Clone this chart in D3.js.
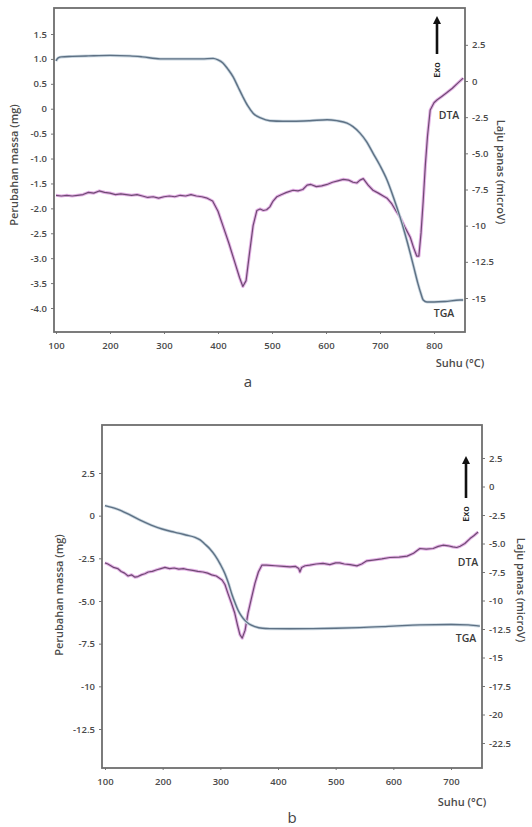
<!DOCTYPE html>
<html>
<head>
<meta charset="utf-8">
<script src="https://cdn.jsdelivr.net/npm/d3@7"></script>
<style>
  body { margin: 0; background: #fff; }
  text { font-family: "Open Sans", sans-serif; }
</style>
</head>
<body>
<div id="chart"></div>
<script>
// ---- panel a data (temperature in °C) ----
const aTgaT = [100, 104, 110, 130, 160, 200, 237, 260, 293, 335, 370, 391, 400, 409, 418, 428, 437, 446, 455, 465, 480, 496, 520, 539, 570, 602, 620, 639, 650, 663, 675, 687, 700, 713, 725, 737, 746, 756, 763, 770, 776, 780, 787, 800, 820, 848, 854];
const aTgaV = [0.96, 1.02, 1.04, 1.05, 1.06, 1.07, 1.06, 1.04, 1.0, 1.0, 1.0, 1.01, 0.98, 0.92, 0.8, 0.64, 0.44, 0.24, 0.06, -0.09, -0.19, -0.24, -0.25, -0.25, -0.24, -0.22, -0.24, -0.29, -0.36, -0.49, -0.66, -0.89, -1.14, -1.43, -1.78, -2.17, -2.5, -2.9, -3.2, -3.5, -3.72, -3.84, -3.88, -3.88, -3.87, -3.84, -3.84];
const aDtaT = [100, 110, 120, 130, 140, 150, 160, 170, 180, 190, 200, 210, 220, 230, 240, 250, 260, 270, 280, 290, 300, 310, 320, 330, 340, 350, 360, 370, 380, 390, 400, 410, 420, 430, 440, 446, 452, 458, 465, 472, 478, 484, 490, 496, 502, 509, 518, 527, 539, 548, 557, 565, 572, 582, 592, 602, 612, 622, 632, 642, 650, 657, 663, 669, 678, 687, 697, 706, 713, 722, 730, 737, 746, 756, 762, 768, 772, 776, 780, 784, 788, 793, 800, 806, 815, 824, 834, 844, 854];
const aDtaV = [-7.9, -7.95, -7.9, -7.95, -7.9, -7.85, -7.7, -7.75, -7.6, -7.7, -7.75, -7.85, -7.8, -7.85, -7.9, -7.85, -7.95, -8.05, -8.0, -8.1, -8.0, -7.95, -8.0, -7.9, -7.95, -7.85, -7.95, -8.0, -8.1, -8.3, -9.0, -10.1, -11.2, -12.4, -13.6, -14.2, -13.8, -12.0, -10.0, -8.95, -8.85, -8.95, -8.9, -8.7, -8.3, -8.0, -7.85, -7.7, -7.55, -7.6, -7.5, -7.2, -7.15, -7.3, -7.25, -7.15, -7.0, -6.9, -6.8, -6.85, -7.0, -7.05, -6.85, -6.75, -7.2, -7.55, -7.75, -7.95, -8.1, -8.5, -9.0, -9.4, -10.1, -10.8, -11.5, -12.1, -12.1, -10.5, -8.3, -5.8, -3.8, -2.0, -1.5, -1.3, -1.05, -0.8, -0.5, -0.15, 0.2];

// ---- panel b data ----
const bTgaT = [100, 120, 140, 160, 180, 199, 215, 227, 240, 256, 265, 273, 282, 291, 300, 308, 314, 320, 326, 331, 337, 343, 350, 360, 373, 386, 420, 460, 500, 542, 600, 646, 700, 730, 750];
const bTgaV = [0.59, 0.4, 0.1, -0.25, -0.55, -0.78, -0.93, -1.02, -1.13, -1.27, -1.42, -1.66, -1.95, -2.34, -2.85, -3.4, -3.95, -4.6, -5.15, -5.56, -5.9, -6.15, -6.35, -6.5, -6.6, -6.62, -6.63, -6.62, -6.6, -6.56, -6.47, -6.4, -6.38, -6.4, -6.47];
const bDtaT = [100, 105, 110, 115, 122, 128, 134, 140, 146, 152, 157, 163, 169, 175, 182, 190, 197, 204, 212, 220, 228, 236, 244, 252, 261, 270, 278, 285, 293, 303, 308, 313, 319, 325, 330, 334, 338, 343, 348, 354, 360, 366, 372, 380, 395, 410, 421, 430, 436, 438, 441, 447, 455, 466, 478, 490, 500, 507, 515, 525, 537, 545, 554, 565, 580, 594, 610, 624, 635, 646, 657, 669, 678, 686, 695, 703, 710, 716, 724, 733, 740, 747];
const bDtaV = [-6.7, -6.8, -6.95, -7.1, -7.2, -7.45, -7.6, -7.85, -7.75, -7.95, -7.9, -7.75, -7.65, -7.5, -7.45, -7.3, -7.2, -7.1, -7.2, -7.15, -7.25, -7.2, -7.3, -7.35, -7.45, -7.5, -7.6, -7.75, -7.85, -8.2, -8.6, -9.35, -10.2, -11.1, -12.2, -13.0, -13.3, -12.6, -11.1, -9.8, -8.5, -7.5, -6.9, -6.9, -6.95, -7.0, -7.05, -7.0, -7.2, -7.5, -7.1, -6.95, -6.9, -6.8, -6.75, -6.85, -6.7, -6.7, -6.8, -6.85, -6.96, -6.8, -6.52, -6.45, -6.35, -6.23, -6.2, -6.11, -5.85, -5.44, -5.5, -5.44, -5.25, -5.15, -5.2, -5.3, -5.35, -5.24, -5.0, -4.57, -4.3, -3.99];

// ---- tick labels ----
const xTicksA = [100, 200, 300, 400, 500, 600, 700, 800];
const xTicksB = [100, 200, 300, 400, 500, 600, 700];
const leftTicksA = [1.5, 1.0, 0.5, 0, -0.5, -1.0, -1.5, -2.0, -2.5, -3.0, -3.5, -4.0];
const leftLabelsA = ["1.5", "1.0", "0.5", "0", "-0.5", "-1.0", "-1.5", "-2.0", "-2.5", "-3.0", "-3.5", "-4.0"];
const rightTicksA = [2.5, 0, -2.5, -5, -7.5, -10, -12.5, -15];
const rightLabelsA = ["2.5", "0", "-2.5", "-5.0", "-7.5", "-10", "-12.5", "-15"];
const leftTicksB = [2.5, 0, -2.5, -5, -7.5, -10, -12.5];
const leftLabelsB = ["2.5", "0", "-2.5", "-5.0", "-7.5", "-10", "-12.5"];
const rightTicksB = [2.5, 0, -2.5, -5, -7.5, -10, -12.5, -15, -17.5, -20, -22.5];
const rightLabelsB = ["2.5", "0", "-2.5", "-5.0", "-7.5", "-10", "-12.5", "-15", "-17.5", "-20", "-22.5"];

const svg = d3.select("#chart").append("svg")
  .attr("width", 532).attr("height", 827);

const textCol = "#4a4a4a";

function zip(a, b) { return a.map((t, i) => [t, b[i]]); }

function drawPanel(p) {
  const g = svg.append("g");
  const x = d3.scaleLinear().domain(p.xDom).range(p.xRng);
  const yL = d3.scaleLinear().domain(p.yLDom).range(p.yLRng);
  const yR = d3.scaleLinear().domain(p.yRDom).range(p.yRRng);
  const [fl, ft, fr, fb] = p.frame;

  // axes
  const ax = g.append("g").attr("transform", `translate(0,${fb})`)
    .call(d3.axisBottom(x).tickValues(p.xTicks).tickFormat(d3.format("d")).tickSize(2).tickPadding(8));
  const al = g.append("g").attr("transform", `translate(${fl},0)`)
    .call(d3.axisLeft(yL).tickValues(p.lTicks).tickFormat((d, i) => p.lLabels[i]).tickSize(3).tickPadding(4));
  const ar = g.append("g").attr("transform", `translate(${fr},0)`)
    .call(d3.axisRight(yR).tickValues(p.rTicks).tickFormat((d, i) => p.rLabels[i]).tickSize(3).tickPadding(4));
  [ax, al, ar].forEach(a => {
    a.select(".domain").remove();
    a.selectAll(".tick line").attr("stroke", "#777");
    a.selectAll("text").attr("fill", textCol).style("font-size", "9.5px").style("font-weight", 600);
  });

  // curves
  const tga = d3.line().x(d => x(d[0])).y(d => yL(d[1])).curve(d3.curveMonotoneX);
  const dta = d3.line().x(d => x(d[0])).y(d => yR(d[1])).curve(d3.curveLinear);
  g.append("path").attr("d", dta(zip(p.dtaT, p.dtaV)))
    .attr("fill", "none").attr("stroke", "#e4b2e6").attr("stroke-width", 3.2).attr("stroke-linejoin", "round");
  g.append("path").attr("d", dta(zip(p.dtaT, p.dtaV)))
    .attr("fill", "none").attr("stroke", "#6f4a73").attr("stroke-width", 1.2).attr("stroke-linejoin", "round");
  g.append("path").attr("d", tga(zip(p.tgaT, p.tgaV)))
    .attr("fill", "none").attr("stroke", "#c9d6e0").attr("stroke-width", 3);
  g.append("path").attr("d", tga(zip(p.tgaT, p.tgaV)))
    .attr("fill", "none").attr("stroke", "#5e7184").attr("stroke-width", 1.4);

  // frame
  g.append("rect").attr("x", fl).attr("y", ft).attr("width", fr - fl).attr("height", fb - ft)
    .attr("fill", "none").attr("stroke", "#6e6e6e").attr("stroke-width", 1.8);

  // axis titles
  g.append("text").attr("transform", `translate(${p.lTitle[0]},${p.lTitle[1]}) rotate(-90)`)
    .attr("text-anchor", "middle").attr("fill", textCol).style("font-size", "11px").style("font-weight", 600)
    .text("Perubahan massa (mg)");
  g.append("text").attr("transform", `translate(${p.rTitle[0]},${p.rTitle[1]}) rotate(90)`)
    .attr("text-anchor", "middle").attr("fill", textCol).style("font-size", "11px").style("font-weight", 600)
    .text("Laju panas (microV)");
  g.append("text").attr("x", p.xTitle[0]).attr("y", p.xTitle[1])
    .attr("text-anchor", "middle").attr("fill", textCol).style("font-size", "11px").style("font-weight", 600)
    .text("Suhu (°C)");
  g.append("text").attr("x", p.letter[0]).attr("y", p.letter[1])
    .attr("text-anchor", "middle").attr("fill", "#444").style("font-size", "15px")
    .text(p.name);

  // curve labels
  g.append("text").attr("x", p.dtaLbl[0]).attr("y", p.dtaLbl[1]).attr("text-anchor", "middle")
    .attr("fill", "#3a3a3a").style("font-size", "10.5px").style("font-weight", 600).text("DTA");
  g.append("text").attr("x", p.tgaLbl[0]).attr("y", p.tgaLbl[1]).attr("text-anchor", "middle")
    .attr("fill", "#3a3a3a").style("font-size", "10.5px").style("font-weight", 600).text("TGA");

  // exo arrow
  const [axp, aTop, aBot] = p.arrow;
  g.append("line").attr("x1", axp).attr("x2", axp).attr("y1", aBot).attr("y2", aTop + 6)
    .attr("stroke", "#111").attr("stroke-width", 2.6);
  g.append("path").attr("d", `M${axp - 4},${aTop + 8} L${axp},${aTop} L${axp + 4},${aTop + 8} Z`).attr("fill", "#111");
  g.append("text").attr("transform", `translate(${axp + 3},${aBot + 16}) rotate(-90)`)
    .attr("text-anchor", "middle").attr("fill", "#222").style("font-size", "9px").style("font-weight", 600)
    .text("Exo");
}

drawPanel({
  name: "a",
  frame: [54, 8, 465, 332],
  xDom: [100, 800], xRng: [56, 434],
  yLDom: [1.5, -4.0], yLRng: [34, 308],
  yRDom: [0, -15], yRRng: [81, 298],
  xTicks: xTicksA, lTicks: leftTicksA, lLabels: leftLabelsA, rTicks: rightTicksA, rLabels: rightLabelsA,
  tgaT: aTgaT, tgaV: aTgaV, dtaT: aDtaT, dtaV: aDtaV,
  lTitle: [18, 165], rTitle: [497, 172], xTitle: [460, 367], letter: [248, 387],
  dtaLbl: [449, 119], tgaLbl: [444, 317],
  arrow: [437, 16, 54]
});

drawPanel({
  name: "b",
  frame: [102, 425, 482, 768],
  xDom: [100, 700], xRng: [105, 451],
  yLDom: [2.5, -12.5], yLRng: [473, 729],
  yRDom: [2.5, -22.5], yRRng: [458, 743],
  xTicks: xTicksB, lTicks: leftTicksB, lLabels: leftLabelsB, rTicks: rightTicksB, rLabels: rightLabelsB,
  tgaT: bTgaT, tgaV: bTgaV, dtaT: bDtaT, dtaV: bDtaV,
  lTitle: [63, 595], rTitle: [517, 590], xTitle: [462, 806], letter: [292, 823],
  dtaLbl: [468, 566], tgaLbl: [466, 642],
  arrow: [466, 456, 498]
});
</script>
</body>
</html>
